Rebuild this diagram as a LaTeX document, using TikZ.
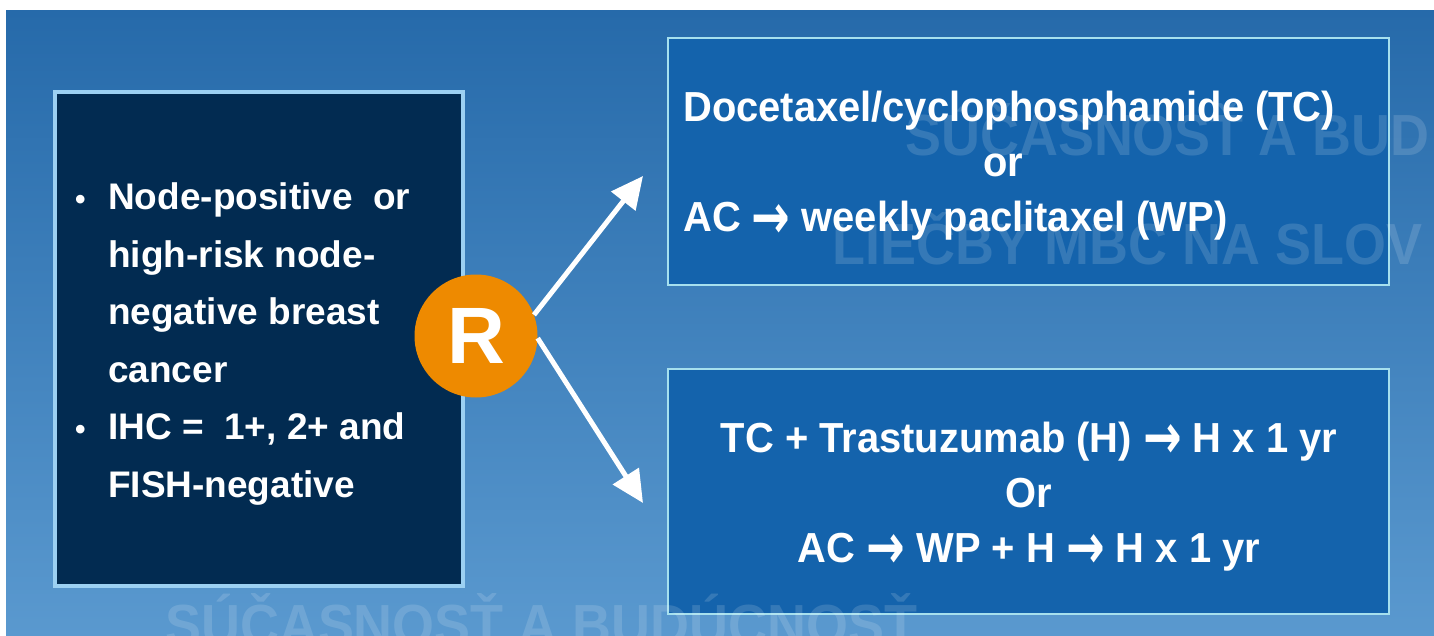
\documentclass[tikz,border=0pt]{standalone}
\usepackage{fontspec}
\setmainfont{Liberation Sans}
\newfontfamily\boxfont[FakeStretch=0.95]{Liberation Sans}
\newfontfamily\wmfont[FakeStretch=0.93]{Liberation Sans}
\newfontfamily\symfont{DejaVu Sans}
\usetikzlibrary{arrows.meta}
\definecolor{bgtop}{HTML}{266AAA}
\definecolor{bgbot}{HTML}{5A99CF}
\definecolor{navy}{HTML}{022B51}
\definecolor{navyborder}{HTML}{9CD0F2}
\definecolor{boxblue}{HTML}{1463AC}
\definecolor{boxborder}{HTML}{A6E0EE}
\definecolor{rorange}{HTML}{EE8A00}
\newcommand{\myarrow}{\raisebox{-0.15em}{\scalebox{1.1}[1.5]{\symfont\bfseries →}}}
\tikzset{
  leftbox/.style={draw=navyborder, fill=navy, line width=4pt, inner sep=0pt},
  rightbox/.style={draw=boxborder, fill=boxblue, line width=2pt, inner sep=0pt, minimum width=721pt},
  lefttext/.style={text=white, inner sep=0pt, anchor=base west, font=\bfseries\fontsize{37}{57.5}\selectfont},
  righttext/.style={text=white, inner sep=0pt, font=\boxfont\bfseries\fontsize{42}{55}\selectfont},
  wm/.style={text=white, text opacity=0.14, inner sep=0pt, anchor=base west, font=\wmfont\bfseries\fontsize{58}{58}\selectfont},
  rcircle/.style={circle, fill=rorange, minimum size=123pt, inner sep=0pt, text=white, font=\bfseries\fontsize{80}{80}\selectfont},
  arr/.style={draw=white, line width=5pt, -{Triangle[length=32pt,width=30pt]}}
}
\begin{document}
\begin{tikzpicture}[x=1pt,y=-1pt]
\useasboundingbox (0,0) rectangle (1434,636);
\fill[white] (0,0) rectangle (1434,636);
\shade[top color=bgtop, bottom color=bgbot] (6,11) rectangle (1434,636);

% boxes
\node[leftbox, minimum width=408pt, minimum height=494pt] (lb) at (259,339) {};
\node[rightbox, minimum height=246pt] (tb) at (1028.5,161.5) {};
\node[rightbox, minimum height=245pt] (bb) at (1028.5,491.5) {};

% watermarks
\node[wm] (w1) at (905,156) {SÚČASNOSŤ A BUD};
\node[wm] (w2) at (832,265) {LIEČBY MBC NA SLOV};
\node[wm] (w3) at (165,645) {SÚČASNOSŤ A BUDÚCNOSŤ};

% R circle and arrows
\node[rcircle] (R) at (476,336) {R};
\coordinate (t1) at (643,176);
\coordinate (t2) at (643,503);
\draw[arr] (R.20) -- (t1);
\draw[arr] (R.-2) -- (t2);

% texts
\node[lefttext] (lt) at (75,210) {\begin{tabular}[t]{@{}p{33pt}@{}l@{}}
{\fontsize{30}{30}\selectfont •} & Node-positive\ \ or\\
 & high-risk node-\\
 & negative breast\\
 & cancer\\
{\fontsize{30}{30}\selectfont •} & IHC =\ \ 1+, 2+ and\\
 & FISH-negative
\end{tabular}};

\node[righttext, anchor=base west] (tt) at (683,122) {\begin{tabular}[t]{@{}l@{}}
Docetaxel/cyclophosphamide (TC)\\
\hspace*{300pt}or\\
AC \myarrow\ weekly paclitaxel (WP)
\end{tabular}};

\node[righttext, anchor=base] (bt) at (1029,452) {\begin{tabular}[t]{@{}c@{}}
TC + Trastuzumab (H) \myarrow\ H x 1 yr\\
Or\\
AC \myarrow\ WP + H \myarrow\ H x 1 yr
\end{tabular}};
\end{tikzpicture}
\end{document}
